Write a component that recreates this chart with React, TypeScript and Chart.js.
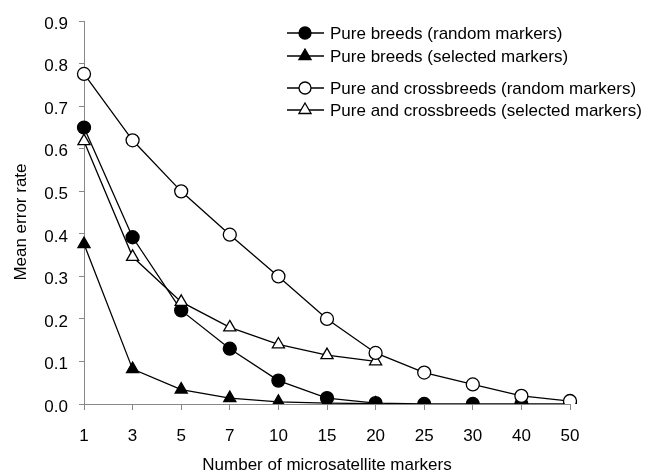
import React, { useEffect, useRef } from "react";
import { Chart, registerables } from "chart.js";

Chart.register(...registerables);

const categories = ["1", "3", "5", "7", "10", "15", "20", "25", "30", "40", "50"];
const pureRandom = [0.65, 0.392, 0.22, 0.13, 0.055, 0.014, 0.002, 0, 0, 0, 0];
const pureSelected = [0.376, 0.082, 0.034, 0.014, 0.005, 0.002, 0.001, null, null, null, null];
const crossRandom = [0.776, 0.62, 0.5, 0.398, 0.3, 0.2, 0.12, 0.074, 0.046, 0.019, 0.007];
const crossSelected = [0.618, 0.346, 0.24, 0.18, 0.14, 0.115, 0.1, null, null, null, null];
const yTicks = [0, 0.1, 0.2, 0.3, 0.4, 0.5, 0.6, 0.7, 0.8, 0.9];

const legendItems = [
  { label: "Pure breeds (random markers)", style: "circle", fill: "#000" },
  { label: "Pure breeds (selected markers)", style: "triangle", fill: "#000" },
  { label: "Pure and crossbreeds (random markers)", style: "circle", fill: "#fff" },
  { label: "Pure and crossbreeds (selected markers)", style: "triangle", fill: "#fff" },
];
const legendRowsY = [33, 56, 88, 110];

const FONT = "'Liberation Sans', Arial, sans-serif";

function drawMarker(ctx: CanvasRenderingContext2D, style: string, fill: string, x: number, y: number) {
  ctx.save();
  ctx.fillStyle = fill;
  ctx.strokeStyle = "#000";
  ctx.lineWidth = 1.3;
  ctx.beginPath();
  if (style === "circle") {
    ctx.arc(x, y, 6, 0, Math.PI * 2);
  } else {
    const r = 7;
    ctx.moveTo(x, y - r);
    ctx.lineTo(x + r * Math.sin((2 * Math.PI) / 3), y - r * Math.cos((2 * Math.PI) / 3));
    ctx.lineTo(x + r * Math.sin((4 * Math.PI) / 3), y - r * Math.cos((4 * Math.PI) / 3));
    ctx.closePath();
  }
  ctx.fill();
  ctx.stroke();
  ctx.restore();
}

const legendPlugin = {
  id: "customLegend",
  afterDraw(chart: any) {
    const ctx = chart.ctx as CanvasRenderingContext2D;
    ctx.save();
    legendItems.forEach((it, i) => {
      const y = legendRowsY[i];
      ctx.strokeStyle = "#000";
      ctx.lineWidth = 1.3;
      ctx.beginPath();
      ctx.moveTo(287, y);
      ctx.lineTo(324, y);
      ctx.stroke();
      drawMarker(ctx, it.style, it.fill, 305, y);
      ctx.fillStyle = "#000";
      ctx.font = `17px ${FONT}`;
      ctx.textBaseline = "middle";
      ctx.textAlign = "left";
      ctx.fillText(it.label, 330, y + 1);
    });
    ctx.restore();
  },
};

export default function App() {
  const ref = useRef<HTMLCanvasElement | null>(null);
  useEffect(() => {
    if (!ref.current) return;
    const common = {
      borderColor: "#000",
      borderWidth: 1.3,
      pointBorderColor: "#000",
      pointBorderWidth: 1.3,
      tension: 0,
      spanGaps: false,
    };
    const chart = new Chart(ref.current, {
      type: "line",
      data: {
        labels: categories,
        datasets: [
          { ...common, label: "Pure and crossbreeds (random markers)", data: crossRandom, pointStyle: "circle", pointRadius: 6.5, pointBackgroundColor: "#fff" },
          { ...common, label: "Pure and crossbreeds (selected markers)", data: crossSelected, pointStyle: "triangle", pointRadius: 7, pointBackgroundColor: "#fff" },
          { ...common, label: "Pure breeds (selected markers)", data: pureSelected, pointStyle: "triangle", pointRadius: 7, pointBackgroundColor: "#000" },
          { ...common, label: "Pure breeds (random markers)", data: pureRandom, pointStyle: "circle", pointRadius: 6.5, pointBackgroundColor: "#000" },
        ] as any,
      },
      options: {
        animation: false,
        responsive: false,
        maintainAspectRatio: false,
        layout: { padding: { top: 11, right: 86, left: 0, bottom: 0 } },
        plugins: { legend: { display: false }, tooltip: { enabled: false } },
        scales: {
          x: {
            type: "category",
            offset: false,
            grid: { display: true, drawOnChartArea: false, drawTicks: true, tickLength: 6, color: "#888" },
            border: { display: true, color: "#888", width: 1 },
            ticks: { color: "#000", font: { family: FONT, size: 17 }, padding: 16, maxRotation: 0, autoSkip: false },
            title: { display: true, text: "Number of microsatellite markers", color: "#000", font: { family: FONT, size: 17 }, padding: { top: 4, bottom: 0 } },
            afterFit: (s: any) => { s.height = 72; },
          },
          y: {
            type: "linear",
            min: 0,
            max: 0.9,
            afterBuildTicks: (s: any) => { s.ticks = yTicks.map((v) => ({ value: v })); },
            grid: { display: true, drawOnChartArea: false, drawTicks: true, tickLength: 5, color: "#888" },
            border: { display: true, color: "#888", width: 1 },
            ticks: { color: "#000", font: { family: FONT, size: 17 }, padding: 11, labelOffset: 3, callback: (v: any) => Number(v).toFixed(1) },
            title: { display: true, text: "Mean error rate    ", color: "#000", font: { family: FONT, size: 17 }, padding: { top: 11, bottom: 4 } },
            afterFit: (s: any) => { s.width = 84; },
          },
        },
      },
      plugins: [legendPlugin],
    } as any);
    return () => chart.destroy();
  }, []);
  return (
    <div style={{ position: "fixed", left: 0, top: 0, width: 656, height: 476, background: "#fff" }}>
      <canvas ref={ref} width={656} height={476} style={{ width: 656, height: 476 }} />
    </div>
  );
}
